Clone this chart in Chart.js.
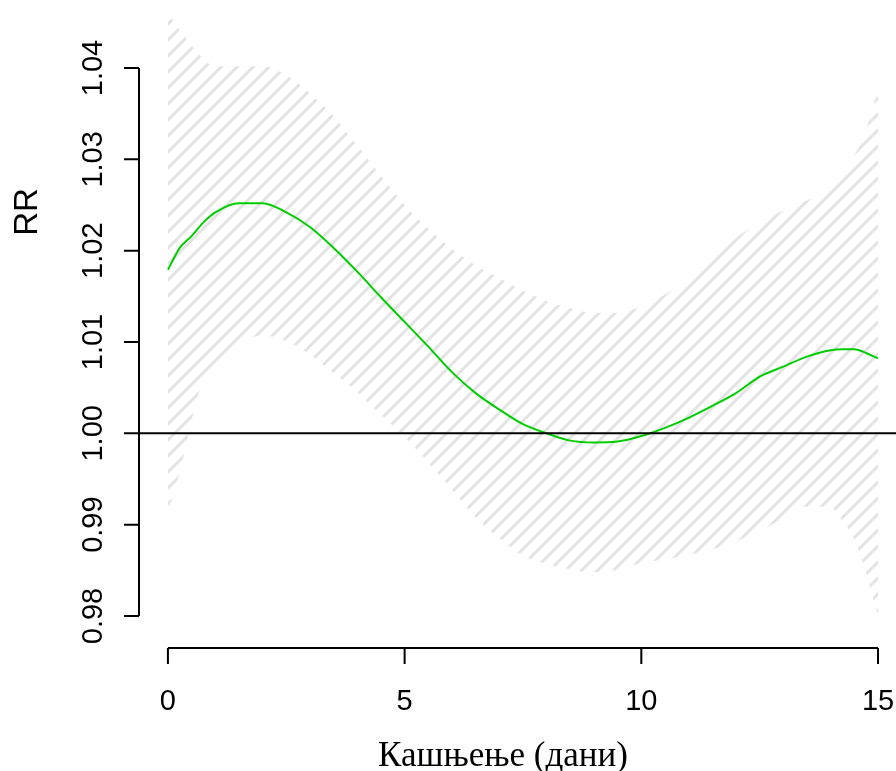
<!DOCTYPE html>
<html>
<head>
<meta charset="utf-8">
<script src="https://cdn.jsdelivr.net/npm/chart.js@4.4.1/dist/chart.umd.min.js"></script>
<style>
  html, body { margin: 0; padding: 0; background: #fff; }
  canvas { display: block; }
</style>
</head>
<body>
<canvas id="chart" width="896" height="771"></canvas>
<script>
// lag (days) at which the estimates were read
const lagDays = [0, 0.25, 0.5, 0.75, 1, 1.5, 2, 2.5, 3, 3.5, 4, 4.5, 5, 5.5, 6, 6.5, 7, 7.5,
  8, 8.5, 9, 9.5, 10, 10.5, 11, 11.5, 12, 12.5, 13, 13.5, 14, 14.25, 14.5, 14.75, 15];

const rrEstimate = [1.0179, 1.0203, 1.0216, 1.0231, 1.0242, 1.0252, 1.0252, 1.0242, 1.0226, 1.0203,
  1.0177, 1.0149, 1.0122, 1.0095, 1.0067, 1.0044, 1.0026, 1.0010, 1.0000, 0.9992, 0.9990, 0.9991,
  0.9997, 1.0006, 1.0017, 1.0030, 1.0044, 1.0062, 1.0073, 1.0084, 1.0091, 1.0092, 1.0092, 1.0088, 1.0082];

const ciUpper = [1.0460, 1.0442, 1.0425, 1.0410, 1.0402, 1.0402, 1.0402, 1.0392, 1.0372, 1.0347,
  1.0315, 1.0282, 1.0250, 1.0224, 1.0202, 1.0184, 1.0170, 1.0156, 1.0145, 1.0137, 1.0132, 1.0132,
  1.0139, 1.0152, 1.0170, 1.0193, 1.0214, 1.0231, 1.0244, 1.0255, 1.0268, 1.0283, 1.0304, 1.0333, 1.0376];

const ciLower = [0.9914, 0.9957, 1.0014, 1.0058, 1.0071, 1.0097, 1.0107, 1.0101, 1.0086, 1.0066,
  1.0045, 1.0020, 0.9996, 0.9968, 0.9938, 0.9908, 0.9885, 0.9866, 0.9857, 0.9851, 0.9848, 0.9851,
  0.9858, 0.9862, 0.9867, 0.9873, 0.9882, 0.9893, 0.9907, 0.9920, 0.9919, 0.9904, 0.9884, 0.9847, 0.9799];

const xTicks = [0, 5, 10, 15];
const yTicks = [0.98, 0.99, 1.00, 1.01, 1.02, 1.03, 1.04];
const yTickLabels = ['0.98', '0.99', '1.00', '1.01', '1.02', '1.03', '1.04'];
const refValue = 1;

const xTitle = 'Кашњење (дани)';
const yTitle = 'RR';

const toPoints = (ys) => ys.map((y, i) => ({ x: lagDays[i], y: y }));

// diagonal hatch like R's polygon(density=...)
function makeHatch() {
  const c = document.createElement('canvas');
  c.width = 16;
  c.height = 16;
  const g = c.getContext('2d');
  g.strokeStyle = '#e3e3e3';
  g.lineWidth = 3;
  g.beginPath();
  g.moveTo(-4, 20); g.lineTo(20, -4);
  g.moveTo(-4, 4); g.lineTo(4, -4);
  g.moveTo(12, 20); g.lineTo(20, 12);
  g.stroke();
  return g.createPattern(c, 'repeat');
}

// R style axes, drawn off the chart scales
const rAxes = {
  id: 'rAxes',
  afterDatasetsDraw(chart) {
    const ctx = chart.ctx;
    const ys = chart.scales.y;
    const area = chart.chartArea;

    // horizontal reference line at RR = 1
    const yRef = ys.getPixelForValue(refValue);
    ctx.save();
    ctx.strokeStyle = '#000';
    ctx.lineWidth = 2;
    ctx.beginPath();
    ctx.moveTo(area.left, yRef);
    ctx.lineTo(area.right, yRef);
    ctx.stroke();
    ctx.restore();
  },
  afterDraw(chart) {
    const ctx = chart.ctx;
    const xs = chart.scales.x;
    const ys = chart.scales.y;
    ctx.save();
    ctx.strokeStyle = '#000';
    ctx.fillStyle = '#000';
    ctx.lineWidth = 2;

    // x axis
    const axisY = 648;
    ctx.beginPath();
    ctx.moveTo(xs.getPixelForValue(xTicks[0]), axisY);
    ctx.lineTo(xs.getPixelForValue(xTicks[xTicks.length - 1]), axisY);
    xTicks.forEach(v => {
      const px = xs.getPixelForValue(v);
      ctx.moveTo(px, axisY);
      ctx.lineTo(px, axisY + 16);
    });
    ctx.stroke();
    ctx.font = '29px "Liberation Sans", Arial, sans-serif';
    ctx.textAlign = 'center';
    ctx.textBaseline = 'alphabetic';
    xTicks.forEach(v => {
      ctx.fillText(String(v), xs.getPixelForValue(v), 710);
    });

    // y axis
    const axisX = 139;
    ctx.beginPath();
    ctx.moveTo(axisX, ys.getPixelForValue(yTicks[0]));
    ctx.lineTo(axisX, ys.getPixelForValue(yTicks[yTicks.length - 1]));
    yTicks.forEach(v => {
      const py = ys.getPixelForValue(v);
      ctx.moveTo(axisX, py);
      ctx.lineTo(axisX - 15, py);
    });
    ctx.stroke();
    yTicks.forEach((v, i) => {
      ctx.save();
      ctx.translate(102, ys.getPixelForValue(v));
      ctx.rotate(-Math.PI / 2);
      ctx.fillText(yTickLabels[i], 0, 0);
      ctx.restore();
    });

    // axis titles
    ctx.font = '33px "Liberation Sans", Arial, sans-serif';
    ctx.save();
    ctx.translate(37, 212);
    ctx.rotate(-Math.PI / 2);
    ctx.fillText(yTitle, 0, 0);
    ctx.restore();

    ctx.font = '35px "Liberation Serif", "Times New Roman", serif';
    ctx.fillText(xTitle, 503, 766);
    ctx.restore();
  }
};

const ctx = document.getElementById('chart').getContext('2d');
new Chart(ctx, {
  type: 'line',
  data: {
    datasets: [
      {
        label: 'RR',
        data: toPoints(rrEstimate),
        borderColor: '#00cd00',
        borderWidth: 2,
        pointRadius: 0,
        cubicInterpolationMode: 'monotone',
        fill: false,
        order: 0
      },
      {
        label: 'upper',
        data: toPoints(ciUpper),
        borderColor: 'rgba(0,0,0,0)',
        borderWidth: 0,
        pointRadius: 0,
        cubicInterpolationMode: 'monotone',
        backgroundColor: makeHatch(),
        fill: '+1',
        order: 1
      },
      {
        label: 'lower',
        data: toPoints(ciLower),
        borderColor: 'rgba(0,0,0,0)',
        borderWidth: 0,
        pointRadius: 0,
        cubicInterpolationMode: 'monotone',
        fill: false,
        order: 2
      }
    ]
  },
  options: {
    responsive: false,
    animation: false,
    events: [],
    layout: {
      padding: { left: 140, right: 0, top: 5, bottom: 131 }
    },
    plugins: {
      legend: { display: false },
      tooltip: { enabled: false }
    },
    scales: {
      x: { type: 'linear', min: -0.59, max: 15.38, display: false },
      y: { type: 'linear', min: 0.97737, max: 1.0469, display: false }
    }
  },
  plugins: [rAxes]
});
</script>
</body>
</html>
